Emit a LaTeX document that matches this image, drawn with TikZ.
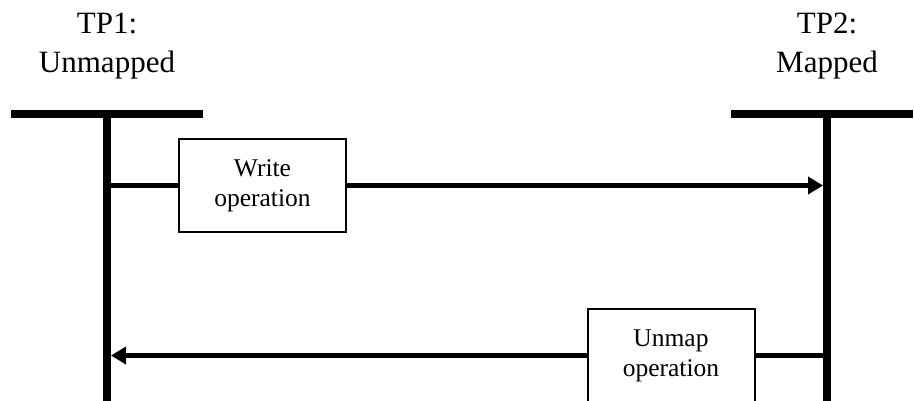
\documentclass[tikz,border=0pt]{standalone}
\usepackage{fontspec}
\setmainfont{Liberation Serif}
\usetikzlibrary{arrows.meta}
\tikzset{
  lifeline/.style={line width=8pt, line cap=butt},
  headbar/.style={line width=7.5pt, line cap=butt},
  msg/.style={line width=5pt},
  msgarrow/.style={line width=5pt, -{Triangle[length=15pt,width=17pt]}},
  opbox/.style={draw, line width=2pt, fill=white, minimum width=167pt, minimum height=93pt,
    inner sep=0pt, align=center, font=\fontsize{25.5}{30}\selectfont},
  title/.style={anchor=base, inner sep=0pt, font=\fontsize{31}{39}\selectfont}
}
\begin{document}
\begin{tikzpicture}[x=1pt,y=-1pt]
\useasboundingbox (0,0) rectangle (914,400);
\clip (0,0) rectangle (914,400);
% titles
\node[title] (t1a) at (107,33) {TP1:};
\node[title] (t1b) at (107,72) {Unmapped};
\node[title] (t2a) at (827,33) {TP2:};
\node[title] (t2b) at (827,72) {Mapped};
% lifeline coordinates
\coordinate (b1l) at (11,114);
\coordinate (b1r) at (203,114);
\coordinate (b2l) at (731,114);
\coordinate (b2r) at (913,114);
\coordinate (v1t) at (107,114);
\coordinate (v1b) at (107,405);
\coordinate (v2t) at (827,114);
\coordinate (v2b) at (827,405);
\draw[headbar] (b1l) -- (b1r);
\draw[headbar] (b2l) -- (b2r);
\draw[lifeline] (v1t) -- (v1b);
\draw[lifeline] (v2t) -- (v2b);
% operation boxes
\node[opbox] (w) at (262.5,185.5) {Write\\operation};
\node[opbox] (u) at (671,355.5) {Unmap\\operation};
% message coordinates
\coordinate (m1s) at (107,185.5);
\coordinate (m1e) at (823,185.5);
\coordinate (m2s) at (827,355.5);
\coordinate (m2e) at (111,355.5);
\draw[msg] (m1s) -- (w.west);
\draw[msgarrow] (w.east) -- (m1e);
\draw[msg] (m2s) -- (u.east);
\draw[msgarrow] (u.west) -- (m2e);
\end{tikzpicture}
\end{document}
